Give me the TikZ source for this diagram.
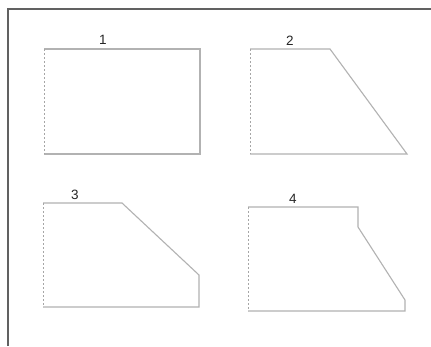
\documentclass[tikz,border=0pt]{standalone}
\usepackage{fontspec}
\setmainfont{Liberation Sans}
\begin{document}
\begin{tikzpicture}[x=1pt,y=-1pt,
  edge/.style={draw=black!30,line width=1.1pt,line join=miter},
  hidden/.style={draw=black!35,line width=0.9pt,dash pattern=on 1.8pt off 2.2pt},
  frame/.style={draw=black!62,line width=2pt},
  lbl/.style={font=\fontsize{13.5}{13.5}\selectfont,text=black!85,inner sep=0pt}]
\useasboundingbox (0,0) rectangle (431,346);
\fill[white] (0,0) rectangle (431,346);
% frame
\draw[frame] (8,346) -- (8,9) -- (431,9);
% shape 1
\draw[edge] (44,49) -- (200,49) -- (200,154) -- (44,154);
\draw[hidden] (44,49) -- (44,154);
\node[lbl] (l1) at (103,40) {1};
% shape 2
\draw[edge] (250,49) -- (330,49) -- (407,154) -- (250,154);
\draw[hidden] (250,49) -- (250,154);
\node[lbl] (l2) at (290,41) {2};
% shape 3
\draw[edge] (43,203) -- (122,203) -- (199,275) -- (199,307) -- (43,307);
\draw[hidden] (43,203) -- (43,307);
\node[lbl] (l3) at (75,195) {3};
% shape 4
\draw[edge] (248,207) -- (358,207) -- (358,227) -- (405,300) -- (405,311) -- (248,311);
\draw[hidden] (248,207) -- (248,311);
\node[lbl] (l4) at (293,199) {4};
\end{tikzpicture}
\end{document}
